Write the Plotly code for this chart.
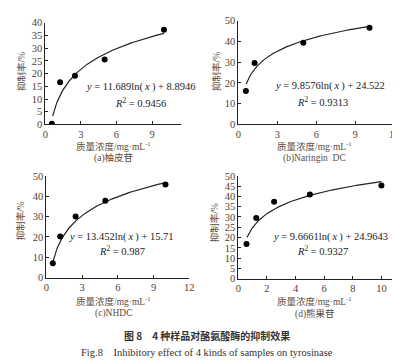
import numpy as np
import plotly.graph_objects as go

# ---- data ----
conc_a = [0.55, 1.25, 2.5, 5.0, 10.0]
inh_a = [0.3, 16.6, 19.2, 25.5, 37.2]
conc_b = [0.58, 1.25, 5.0, 10.1]
inh_b = [16.1, 29.7, 39.4, 46.6]
conc_c = [0.55, 1.17, 2.46, 4.95, 10.0]
inh_c = [7.1, 20.2, 30.0, 37.8, 45.8]
conc_d = [0.57, 1.25, 2.5, 5.0, 10.0]
inh_d = [16.9, 29.5, 37.4, 40.9, 45.3]

# fitted log trendlines shown on the chart: y = k*ln(x) + b
fit_k = [11.689, 9.8576, 13.452, 9.6661]
fit_b = [8.8946, 24.522, 15.71, 24.9643]
fit_r2 = ["0.9456", "0.9313", "0.987", "0.9327"]
fit_b_txt = ["8.8946", "24.522", "15.71", "24.9643"]
fit_k_txt = ["11.689", "9.8576", "13.452", "9.6661"]
fit_x0 = [0.62, 0.6, 0.55, 0.6]
fit_x1 = [10.0, 10.1, 10.0, 10.0]

captions = ["(a)柚皮苷", "(b)Naringin  DC", "(c)NHDC", "(d)熊果苷"]
xtitle = "质量浓度/mg·mL<sup>-1</sup>"
ytitle = "抑制率/%"

W, H = 400, 361
SERIF = "Liberation Serif, Noto Sans CJK SC, serif"
TICKC = "#4f3f33"
TITC = "#5e4b3d"

# pixel geometry of each panel: (x0px, x1px, ytop_px, ybot_px, xmax, ymax, xdtick, ydtick)
panels = [
    (35, 173, 10, 115, 11.4, 40, 3, 5),
    (232, 391, 8, 115, 12, 50, 3, 10),
    (36, 182, 168, 273, 12, 50, 3, 10),
    (232, 393, 168, 274, 11.03, 50, 2, 5),
]
data = [(conc_a, inh_a), (conc_b, inh_b), (conc_c, inh_c), (conc_d, inh_d)]

fig = go.Figure()
layout = dict(
    width=W, height=H, margin=dict(l=0, r=0, t=0, b=0),
    paper_bgcolor="white", plot_bgcolor="white", showlegend=False,
)
annotations = []

def px(x):
    return x / W

def py(y):
    return 1 - y / H

for i, (pan, (xs, ys)) in enumerate(zip(panels, data)):
    x0, x1, yt, yb, xmax, ymax, xdt, ydt = pan
    n = "" if i == 0 else str(i + 1)
    xa, ya = "x" + n, "y" + n
    common = dict(
        showline=True, linecolor="#222", linewidth=1, showgrid=False, zeroline=False,
        ticks="inside", ticklen=3, tickcolor="#222", tickwidth=1,
        tickfont=dict(family=SERIF, size=10.5, color=TICKC),
    )
    layout["xaxis" + n] = dict(
        domain=[px(x0), px(x1)], range=[0, xmax], anchor=ya, dtick=xdt, tick0=0,
        **common,
    )
    layout["yaxis" + n] = dict(
        domain=[py(yb), py(yt)], range=[0, ymax], anchor=xa, dtick=ydt, tick0=0,
        **common,
    )
    xc = np.linspace(fit_x0[i], fit_x1[i], 200)
    yc = fit_k[i] * np.log(xc) + fit_b[i]
    fig.add_trace(go.Scatter(x=xc, y=yc, mode="lines", line=dict(color="#222", width=1.2),
                             xaxis=xa, yaxis=ya, hoverinfo="skip"))
    fig.add_trace(go.Scatter(x=xs, y=ys, mode="markers", marker=dict(color="black", size=6),
                             xaxis=xa, yaxis=ya))

# text positions (pixel centres)
eq_pos = [(132, 76), (326, 75), (113, 231), (326, 231)]
r2_pos = [(132, 92), (318, 91), (113, 245), (318, 245)]
ytit_pos = [(10, 60), (209, 60), (10, 214), (208, 216)]
xtit_pos = [(105, 137), (310, 137), (105, 297), (310, 297)]
cap_pos = [(105, 150), (310, 150), (105, 310), (310, 310)]

def ann(x, y, text, font, **kw):
    d = dict(x=px(x), y=py(y), xref="paper", yref="paper", showarrow=False,
             xanchor="center", yanchor="middle", text=text, font=font)
    d.update(kw)
    return d

for i in range(4):
    annotations.append(ann(*eq_pos[i],
        f"<i>y</i> = {fit_k_txt[i]}ln(\u2009<i>x</i>\u2009) + {fit_b_txt[i]}",
        dict(family=SERIF, size=10.5, color="#222")))
    annotations.append(ann(*r2_pos[i],
        f"<i>R</i><sup>2</sup> = {fit_r2[i]}",
        dict(family=SERIF, size=10.5, color="#222")))
    annotations.append(ann(*ytit_pos[i], ytitle,
        dict(family=SERIF, size=9.5, color=TITC), textangle=-90))
    annotations.append(ann(*xtit_pos[i], xtitle,
        dict(family=SERIF, size=9.5, color=TITC)))
    annotations.append(ann(*cap_pos[i], captions[i],
        dict(family=SERIF, size=9.5, color=TITC)))

annotations.append(ann(200, 333, "<b>图 8　4 种样品对酪氨酸酶的抑制效果</b>",
    dict(family="Noto Sans CJK SC, sans-serif", size=10, color="#333")))
annotations.append(ann(200, 350, "Fig.8　Inhibitory effect of 4 kinds of samples on tyrosinase",
    dict(family=SERIF, size=10.5, color="#333")))

layout["annotations"] = annotations
fig.update_layout(**layout)
fig.write_html("out.html")
